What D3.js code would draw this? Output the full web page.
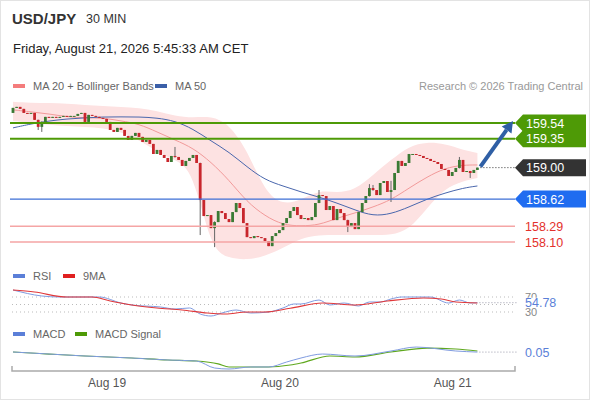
<!DOCTYPE html>
<meta charset="utf-8">
<style>
body { margin: 0; background: #fff; }
svg { display: block; font-family: "Liberation Sans", Arial, sans-serif; }
.legend text { fill: #666; font-size: 11px; }
.axis text { fill: #555; font-size: 12px; font-family: "Liberation Sans", Arial, sans-serif; }
.axis path { stroke: #aaa; stroke-width: 1.5; }
</style>
<svg id="chart" width="590" height="400"></svg>
<script src="https://cdn.jsdelivr.net/npm/d3@7/dist/d3.min.js"></script>
<script>

// 30 min candles, closes (open = previous close)
var firstOpen = 159.662;
var closes = [
  159.723, 159.735, 159.711, 159.662, 159.650, 159.662, 159.578, 159.493, 159.553, 159.614,
  159.602, 159.614, 159.602, 159.614, 159.626, 159.614, 159.626, 159.626, 159.650, 159.662,
  159.553, 159.638, 159.626, 159.614, 159.602, 159.590, 159.553, 159.456, 159.432, 159.481,
  159.456, 159.384, 159.335, 159.384, 159.420, 159.372, 159.311, 159.335, 159.287, 159.165,
  159.214, 159.153, 159.117, 159.068, 159.141, 159.129, 159.093, 159.020, 159.081, 159.117,
  159.153, 159.056, 158.608, 158.414, 158.426, 158.268, 158.341, 158.475, 158.450, 158.378,
  158.341, 158.462, 158.572, 158.511, 158.329, 158.159, 158.147, 158.172, 158.159, 158.147,
  158.111, 158.050, 158.172, 158.208, 158.244, 158.329, 158.390, 158.475, 158.523, 158.426,
  158.378, 158.390, 158.365, 158.402, 158.572, 158.668, 158.656, 158.487, 158.535, 158.365,
  158.499, 158.450, 158.365, 158.281, 158.329, 158.256, 158.462, 158.572, 158.656, 158.753,
  158.729, 158.668, 158.814, 158.838, 158.705, 158.729, 158.935, 159.081, 159.020, 159.056,
  159.165, 159.165, 159.153, 159.141, 159.117, 159.105, 159.081, 159.068, 159.044, 158.984,
  158.972, 158.899, 158.947, 158.996, 159.093, 158.947, 158.959, 158.935, 158.972, 159.000
];

// candles with a visible wick
var wickIdx  = [7, 8, 45, 52, 56, 85, 93, 99, 100, 105, 124, 127];
var wickHigh = [159.580, 159.560, 159.250, 159.060, 158.350, 158.729, 158.370, 158.800, 158.790, 158.840, 159.129, 158.960];
var wickLow  = [159.455, 159.432, 159.120, 158.184, 158.038, 158.570, 158.220, 158.650, 158.720, 158.584, 158.990, 158.875];

// MA 20, Bollinger bands and MA 50, sampled every 5 candles
var bandIdx = [0, 5, 10, 15, 20, 25, 30, 35, 40, 45, 50, 55, 60, 65, 70, 75, 80, 85, 90, 95, 100, 105, 110, 115, 120, 125, 129];
var bbUpper = [159.796, 159.784, 159.784, 159.772, 159.759, 159.747, 159.735, 159.723, 159.687, 159.626, 159.602, 159.626, 159.529, 159.214,
               158.705, 158.547, 158.608, 158.729, 158.693, 158.729, 158.911, 159.093, 159.262, 159.311, 159.287, 159.214, 159.178];
var bbLower = [159.565, 159.541, 159.517, 159.505, 159.493, 159.481, 159.432, 159.335, 159.190, 159.093, 158.972, 158.002, 157.905, 157.881,
               157.929, 158.026, 158.147, 158.184, 158.184, 158.184, 158.184, 158.184, 158.244, 158.511, 158.753, 158.838, 158.875];
var ma20 = [159.699, 159.675, 159.650, 159.614, 159.602, 159.602, 159.565, 159.529, 159.432, 159.335, 159.238, 159.068, 158.850, 158.584,
            158.414, 158.305, 158.293, 158.305, 158.390, 158.450, 158.523, 158.608, 158.753, 158.887, 158.996, 159.032, 159.032];
var ma50 = [159.481, 159.529, 159.565, 159.590, 159.602, 159.614, 159.614, 159.614, 159.602, 159.565, 159.469, 159.323, 159.190, 159.008,
            158.850, 158.778, 158.705, 158.644, 158.572, 158.487, 158.414, 158.438, 158.523, 158.620, 158.693, 158.753, 158.778];

// key levels
var resistances = [159.54, 159.35];
var lastPrice = 159.00;
var pivot = 158.62;
var supports = [158.29, 158.10];

// RSI and its 9 period average
var rsiIdx = [0, 8, 13, 24, 30, 33, 41, 45, 49, 52, 55, 58, 62, 66, 71, 75, 78, 80, 85, 88, 92, 96, 99, 102, 105, 108, 111, 116, 121, 124, 127, 129];
var rsiVal = [88.7, 72.7, 70, 70, 54, 48.7, 43.3, 38, 40.7, 24.7, 19.3, 27.3, 35.3, 27.3, 30, 40.7, 51.3, 51.3, 62, 48.7, 54, 46, 56.7, 56.7, 64.7, 70, 70, 70, 54, 62, 54, 54.78];
var rsiMaIdx = [0, 6, 15, 22, 27, 33, 40, 47, 54, 59, 65, 70, 77, 86, 95, 104, 114, 119, 123, 129];
var rsiMaVal = [88.7, 83.3, 70, 70, 59.3, 48.7, 40.7, 35.3, 27.3, 24.7, 30, 30, 40, 54, 48.7, 59.3, 67.3, 64.7, 56.7, 54];
var rsiLevels = [70, 50, 30];

// MACD and signal
var macdIdx = [0, 10, 20, 33, 43, 51, 56, 60, 66, 71, 76, 80, 86, 95, 105, 112, 123, 129];
var macdVal = [0.052, 0.009, -0.033, -0.075, -0.117, -0.139, -0.287, -0.308, -0.265, -0.265, -0.160, -0.075, 0.009, -0.033, 0.073, 0.157, 0.073, 0.05];
var sigIdx = [0, 10, 20, 33, 43, 51, 57, 60, 66, 71, 77, 80, 88, 95, 105, 115, 123, 129];
var sigVal = [0.052, 0.009, -0.033, -0.075, -0.117, -0.139, -0.200, -0.265, -0.265, -0.265, -0.223, -0.181, -0.033, -0.054, 0.052, 0.136, 0.115, 0.073];

var svg = d3.select("#chart");

// candle index -> time (30 min bars, first bar Aug 18 11:00)
var start = Date.UTC(2026, 7, 18, 11, 0);
var step = 30 * 60 * 1000;
function t(i) { return new Date(start + i * step); }

var x = d3.scaleUtc().domain([t(-0.83), t(139.44)]).range([10, 515]);
var y = d3.scaleLinear().domain([158.10, 159.54]).range([242, 123]);
var yRsi = d3.scaleLinear().domain([30, 70]).range([312, 297]);
var yMacd = d3.scaleLinear().domain([-0.35, 0.2]).range([371, 345]);

// frame
svg.append("rect").attr("x", 0.5).attr("y", 0.5).attr("width", 589).attr("height", 399)
  .attr("fill", "none").attr("stroke", "#e3e3e3");

// header
svg.append("text").attr("x", 12).attr("y", 24).attr("font-size", 15).attr("font-weight", "bold")
  .attr("fill", "#333").text("USD/JPY");
svg.append("text").attr("x", 86).attr("y", 23).attr("font-size", 12.5).attr("fill", "#333").text("30 MIN");
svg.append("text").attr("x", 13).attr("y", 53).attr("font-size", 13).attr("fill", "#222")
  .text("Friday, August 21, 2026 5:45:33 AM CET");

function legend(items, ly) {
  var g = svg.append("g").attr("class", "legend");
  items.forEach(function(it) {
    g.append("rect").attr("x", it.x).attr("y", ly - 2).attr("width", 12).attr("height", 4).attr("fill", it.color);
    g.append("text").attr("x", it.x + 20).attr("y", ly + 4).text(it.label);
  });
}
legend([{x: 13, color: "#f47c7c", label: "MA 20 + Bollinger Bands"},
        {x: 155, color: "#3a5fa8", label: "MA 50"}], 86);
svg.append("text").attr("x", 583).attr("y", 90).attr("text-anchor", "end").attr("font-size", 11)
  .attr("fill", "#999").text("Research \u00a9 2026 Trading Central");

// bands and moving averages
var bandData = bandIdx.map(function(d, k) { return {i: d, hi: bbUpper[k], lo: bbLower[k], m20: ma20[k], m50: ma50[k]}; });
svg.append("path").datum(bandData)
  .attr("d", d3.area().curve(d3.curveBasis)
    .x(function(d) { return x(t(d.i)); })
    .y0(function(d) { return y(d.lo); })
    .y1(function(d) { return y(d.hi); }))
  .attr("fill", "#fde2e2");

function line(key, color) {
  svg.append("path").datum(bandData)
    .attr("d", d3.line().curve(d3.curveBasis)
      .x(function(d) { return x(t(d.i)); })
      .y(function(d) { return y(d[key]); }))
    .attr("fill", "none").attr("stroke", color).attr("stroke-width", 1);
}
line("m20", "#f29a9a");
line("m50", "#4a67ad");

// candles
var candles = closes.map(function(c, i) {
  var o = i === 0 ? firstOpen : closes[i - 1];
  var k = wickIdx.indexOf(i);
  return {i: i, o: o, c: c,
          h: k >= 0 ? wickHigh[k] : Math.max(o, c),
          l: k >= 0 ? wickLow[k] : Math.min(o, c)};
});
var cg = svg.append("g");
cg.selectAll("line").data(candles).enter().append("line")
  .attr("x1", function(d) { return x(t(d.i)); })
  .attr("x2", function(d) { return x(t(d.i)); })
  .attr("y1", function(d) { return y(d.h); })
  .attr("y2", function(d) { return y(d.l); })
  .attr("stroke", "#666").attr("stroke-width", 1);
cg.selectAll("rect").data(candles).enter().append("rect")
  .attr("x", function(d) { return x(t(d.i)) - 1.4; })
  .attr("width", 2.8)
  .attr("y", function(d) { return y(Math.max(d.o, d.c)); })
  .attr("height", function(d) { return Math.max(1, Math.abs(y(d.o) - y(d.c))); })
  .attr("fill", function(d) { return d.c >= d.o ? "#3b7a34" : "#c8262c"; });

// levels
var lx0 = 10, lx1 = 515;
resistances.forEach(function(v) {
  svg.append("line").attr("x1", lx0).attr("x2", lx1).attr("y1", y(v)).attr("y2", y(v))
    .attr("stroke", "#4e9a06").attr("stroke-width", 2);
});
svg.append("line").attr("x1", lx0).attr("x2", lx1).attr("y1", y(pivot)).attr("y2", y(pivot))
  .attr("stroke", "#3d6fd6").attr("stroke-width", 1.2);
supports.forEach(function(v) {
  svg.append("line").attr("x1", lx0).attr("x2", lx1).attr("y1", y(v)).attr("y2", y(v))
    .attr("stroke", "#f5a5a5").attr("stroke-width", 1.5);
});
var lastX = x(t(closes.length - 1));
svg.append("line").attr("x1", lastX + 3).attr("x2", lx1).attr("y1", y(lastPrice)).attr("y2", y(lastPrice))
  .attr("stroke", "#333").attr("stroke-dasharray", "1,2");

// projection arrow
var ax0 = lastX + 3, ay0 = y(lastPrice) - 1, ax1 = 513, ay1 = y(resistances[0]) - 2;
var ang = Math.atan2(ay1 - ay0, ax1 - ax0);
var hl = 11, hw = 6;
var bx = ax1 - hl * Math.cos(ang), by = ay1 - hl * Math.sin(ang);
svg.append("line").attr("x1", ax0).attr("y1", ay0).attr("x2", bx).attr("y2", by)
  .attr("stroke", "#2f5fa5").attr("stroke-width", 4);
svg.append("path")
  .attr("d", "M" + ax1 + "," + ay1 +
    "L" + (bx + hw * Math.sin(ang)) + "," + (by - hw * Math.cos(ang)) +
    "L" + (bx - hw * Math.sin(ang)) + "," + (by + hw * Math.cos(ang)) + "Z")
  .attr("fill", "#2f5fa5");

// price tags
function tag(v, bg) {
  var yy = y(v);
  svg.append("path")
    .attr("d", "M515," + yy + "L523," + (yy - 8.5) + "L586," + (yy - 8.5) + "L586," + (yy + 8.5) + "L523," + (yy + 8.5) + "Z")
    .attr("fill", bg);
  svg.append("text").attr("x", 526).attr("y", yy + 4.5).attr("font-size", 12.5)
    .attr("fill", "#fff").text(v.toFixed(2));
}
resistances.slice().reverse().forEach(function(v) { tag(v, "#4e9a06"); });
tag(lastPrice, "#333333");
tag(pivot, "#1f6cf0");
supports.forEach(function(v) {
  svg.append("text").attr("x", 525).attr("y", y(v) + 4.5).attr("font-size", 12.5)
    .attr("fill", "#e3312b").text(v.toFixed(2));
});

// RSI panel
legend([{x: 13, color: "#5b7fd8", label: "RSI"}, {x: 63, color: "#e02020", label: "9MA"}], 276);
rsiLevels.forEach(function(v) {
  svg.append("line").attr("x1", 12).attr("x2", 515).attr("y1", yRsi(v)).attr("y2", yRsi(v))
    .attr("stroke", "#bbb").attr("stroke-dasharray", "1,3");
});
[70, 30].forEach(function(v) {
  svg.append("text").attr("x", 525).attr("y", yRsi(v) + 4).attr("font-size", 11).attr("fill", "#888").text(v);
});
function sub(idx, vals, sy, color, w) {
  svg.append("path").datum(idx.map(function(d, k) { return [d, vals[k]]; }))
    .attr("d", d3.line().curve(d3.curveMonotoneX)
      .x(function(d) { return x(t(d[0])); })
      .y(function(d) { return sy(d[1]); }))
    .attr("fill", "none").attr("stroke", color).attr("stroke-width", w);
}
sub(rsiIdx, rsiVal, yRsi, "#7f9be0", 1);
sub(rsiMaIdx, rsiMaVal, yRsi, "#e0383a", 1.2);
var rsiLast = rsiVal[rsiVal.length - 1];
svg.append("line").attr("x1", lastX + 2).attr("x2", 518).attr("y1", yRsi(rsiLast)).attr("y2", yRsi(rsiLast))
  .attr("stroke", "#99a").attr("stroke-dasharray", "1,2");
svg.append("rect").attr("x", 523).attr("y", yRsi(rsiLast) - 5).attr("width", 32).attr("height", 10).attr("fill", "#fff");
svg.append("text").attr("x", 525).attr("y", yRsi(rsiLast) + 4.5).attr("font-size", 12.5)
  .attr("fill", "#5b7fd8").text(rsiLast.toFixed(2));

// MACD panel
legend([{x: 13, color: "#5b7fd8", label: "MACD"}, {x: 75, color: "#4e9a06", label: "MACD Signal"}], 334);
sub(sigIdx, sigVal, yMacd, "#5fa81e", 1.2);
sub(macdIdx, macdVal, yMacd, "#7f9be0", 1);
var macdLast = macdVal[macdVal.length - 1];
svg.append("line").attr("x1", lastX + 2).attr("x2", 518).attr("y1", yMacd(macdLast)).attr("y2", yMacd(macdLast))
  .attr("stroke", "#99a").attr("stroke-dasharray", "1,2");
svg.append("text").attr("x", 525).attr("y", yMacd(macdLast) + 4.5).attr("font-size", 12.5)
  .attr("fill", "#5b7fd8").text(macdLast.toFixed(2));

// time axis
var xAxis = d3.axisBottom(x)
  .ticks(d3.utcDay.every(1))
  .tickFormat(d3.utcFormat("%b %d"))
  .tickSizeInner(0)
  .tickSizeOuter(-5)
  .tickPadding(7);
var ag = svg.append("g").attr("class", "axis").attr("transform", "translate(0,371)").call(xAxis);
ag.select(".domain").attr("d", "M12,-5V0H515V-5");
</script>
